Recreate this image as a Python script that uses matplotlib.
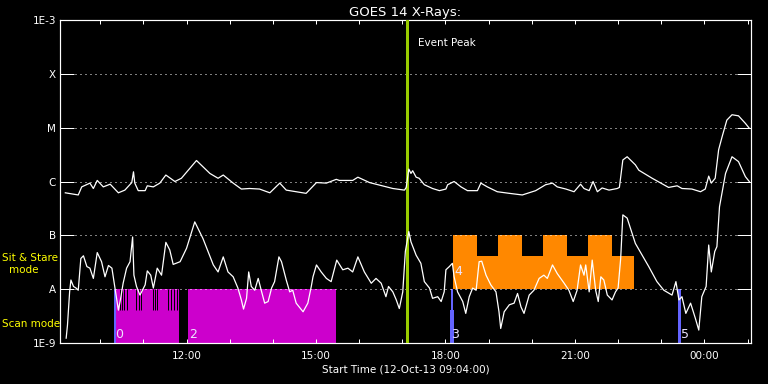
import numpy as np
import matplotlib
matplotlib.use('Agg')
from matplotlib import pyplot as plt
from matplotlib.ticker import NullLocator

# time in hours since 12-Oct-13 00:00, flux as log10(W/m^2)
t_long = [9.19, 9.49, 9.57, 9.76, 9.84, 9.93, 10.07, 10.23, 10.42, 10.57, 10.73, 10.77, 10.80, 10.88,
          11.04, 11.09, 11.23, 11.38, 11.52, 11.73, 11.88, 12.23, 12.54, 12.73, 12.85, 13.08, 13.27,
          13.46, 13.69, 13.93, 14.16, 14.31, 14.77, 15.01, 15.24, 15.47, 15.54, 15.85, 15.97, 16.24,
          16.78, 17.05, 17.09, 17.15, 17.20, 17.24, 17.32, 17.39, 17.51, 17.70, 17.86, 18.01, 18.05,
          18.20, 18.36, 18.51, 18.74, 18.82, 18.97, 19.20, 19.48, 19.78, 20.09, 20.32, 20.48, 20.59,
          20.79, 20.98, 21.13, 21.21, 21.33, 21.42, 21.52, 21.63, 21.79, 21.98, 22.03, 22.11, 22.21,
          22.40, 22.48, 22.79, 23.17, 23.37, 23.48, 23.71, 23.91, 24.02, 24.10, 24.16, 24.25, 24.33,
          24.41, 24.52, 24.64, 24.79, 24.95, 25.04]
f_long = [-6.21, -6.25, -6.10, -6.03, -6.13, -5.98, -6.10, -6.05, -6.21, -6.16, -6.02, -5.82, -6.03, -6.17,
          -6.17, -6.08, -6.10, -6.03, -5.88, -6.00, -5.94, -5.61, -5.85, -5.94, -5.88, -6.03, -6.14,
          -6.13, -6.14, -6.21, -6.03, -6.16, -6.22, -6.02, -6.03, -5.96, -5.98, -5.98, -5.92, -6.02,
          -6.13, -6.16, -6.11, -5.77, -5.85, -5.80, -5.92, -5.94, -6.06, -6.13, -6.17, -6.14, -6.06,
          -6.00, -6.10, -6.17, -6.17, -6.03, -6.10, -6.19, -6.22, -6.25, -6.17, -6.06, -6.03, -6.10,
          -6.14, -6.19, -6.05, -6.13, -6.17, -6.00, -6.19, -6.12, -6.16, -6.13, -6.11, -5.60, -5.54,
          -5.69, -5.79, -5.94, -6.11, -6.08, -6.13, -6.14, -6.19, -6.14, -5.90, -6.03, -5.94, -5.41,
          -5.17, -4.86, -4.76, -4.78, -4.92, -5.01]

t_short = [9.21, 9.24, 9.29, 9.32, 9.38, 9.44, 9.49, 9.55, 9.61, 9.69, 9.76, 9.84, 9.93, 10.03, 10.11,
           10.19, 10.27, 10.34, 10.42, 10.46, 10.53, 10.61, 10.69, 10.75, 10.78, 10.84, 10.92, 11.04,
           11.09, 11.17, 11.23, 11.32, 11.42, 11.52, 11.61, 11.69, 11.85, 12.00, 12.19, 12.38, 12.62,
           12.73, 12.85, 12.96, 13.08, 13.19, 13.27, 13.32, 13.39, 13.44, 13.50, 13.58, 13.66, 13.73,
           13.81, 13.89, 13.97, 14.04, 14.14, 14.20, 14.31, 14.39, 14.46, 14.54, 14.70, 14.81, 14.89,
           14.93, 15.01, 15.12, 15.24, 15.35, 15.48, 15.62, 15.74, 15.85, 15.97, 16.12, 16.28, 16.39,
           16.51, 16.62, 16.68, 16.78, 16.86, 16.93, 17.01, 17.07, 17.15, 17.20, 17.32, 17.43, 17.51,
           17.63, 17.70, 17.82, 17.90, 17.97, 18.01, 18.09, 18.16, 18.20, 18.28, 18.40, 18.47, 18.55,
           18.63, 18.71, 18.78, 18.84, 18.94, 19.05, 19.17, 19.24, 19.28, 19.36, 19.48, 19.59, 19.67,
           19.75, 19.82, 19.94, 20.05, 20.17, 20.28, 20.36, 20.48, 20.59, 20.75, 20.86, 20.96, 21.05,
           21.13, 21.21, 21.25, 21.33, 21.40, 21.48, 21.54, 21.60, 21.67, 21.75, 21.86, 21.94, 22.00,
           22.06, 22.11, 22.21, 22.40, 22.71, 22.90, 23.06, 23.25, 23.34, 23.41, 23.48, 23.57, 23.68,
           23.79, 23.87, 23.94, 24.04, 24.10, 24.16, 24.24, 24.29, 24.35, 24.49, 24.64, 24.79, 24.95,
           25.04]
f_short = [-8.91, -8.67, -8.05, -7.83, -7.95, -7.98, -8.02, -7.43, -7.38, -7.58, -7.61, -7.80, -7.32, -7.49,
           -7.77, -7.56, -7.61, -7.98, -8.39, -8.23, -7.89, -7.61, -7.49, -7.03, -7.74, -7.95, -8.11,
           -7.92, -7.66, -7.74, -7.98, -7.61, -7.74, -7.13, -7.27, -7.54, -7.49, -7.24, -6.75, -7.06,
           -7.55, -7.68, -7.40, -7.68, -7.77, -7.98, -8.20, -8.37, -8.17, -7.68, -7.95, -8.02, -7.80,
           -8.02, -8.26, -8.23, -7.98, -7.86, -7.40, -7.49, -7.83, -8.05, -8.02, -8.26, -8.42, -8.26,
           -7.95, -7.77, -7.55, -7.68, -7.80, -7.86, -7.46, -7.64, -7.61, -7.68, -7.40, -7.68, -7.89,
           -7.80, -7.89, -8.14, -7.95, -8.05, -8.20, -8.36, -8.05, -7.30, -6.93, -7.12, -7.37, -7.52,
           -7.86, -7.98, -8.17, -8.14, -8.23, -8.05, -7.64, -7.58, -7.52, -7.77, -8.05, -8.23, -8.45,
           -8.14, -7.98, -8.02, -7.49, -7.48, -7.74, -7.92, -8.05, -8.42, -8.73, -8.42, -8.29, -8.26,
           -8.08, -8.33, -8.45, -8.11, -8.02, -7.80, -7.74, -7.80, -7.55, -7.71, -7.89, -8.02, -8.23,
           -8.02, -7.55, -7.74, -7.55, -8.05, -7.46, -8.02, -8.23, -7.77, -7.83, -8.11, -8.20, -8.05,
           -7.98, -7.43, -6.62, -6.68, -7.15, -7.58, -7.86, -8.02, -8.11, -7.86, -8.20, -8.14, -8.45,
           -8.26, -8.54, -8.76, -8.14, -7.95, -7.18, -7.68, -7.30, -7.21, -6.47, -5.85, -5.54, -5.63,
           -5.91, -6.00]

t_start, t_end = 9.067, 25.08
event_peak = 17.11

# scan mode blocks and numbered markers
scan_blocks = [(10.35, 11.82), (12.04, 15.47)]
scan_gaps = [10.46, 10.51, 10.56, 10.62, 10.83, 10.89, 10.95, 11.22, 11.27, 11.32, 11.57, 11.64, 11.70, 11.77]
scan_marks = [(10.32, 10.37), (18.11, 18.20), (23.39, 23.45)]
# sit & stare
ss_base = (18.18, 22.37)
ss_tabs = [(18.18, 18.74), (19.22, 19.78), (20.26, 20.81), (21.30, 21.86)]
ss_mid = 4.1e-8
scan_mid = 4.1e-9
label_num = ['0', '2', '3', '4', '5']
label_t = [10.35, 12.06, 18.14, 18.20, 23.46]
label_f = [1.1e-9, 1.1e-9, 1.1e-9, 1.6e-8, 1.1e-9]

ylevels = [1e-3, 1e-4, 1e-5, 1e-6, 1e-7, 1e-8, 1e-9]
ylabels = ['1E-3', 'X', 'M', 'C', 'B', 'A', '1E-9']
xticks_major = [12, 15, 18, 21, 24]
xlabels = ['12:00', '15:00', '18:00', '21:00', '00:00']

magenta = '#cc00cc'
orange = '#ff8800'
blue = '#6464ff'
px = 0.72  # one pixel in points

fig = plt.figure(figsize=(7.68, 3.84), dpi=100, facecolor='black')
ax = fig.add_axes([60/768, 41/384, 691/768, 323/384], facecolor='black')
ax.set_yscale('log')
ax.set_ylim(1e-9, 1e-3)
ax.set_xlim(t_start, t_end)

# scan mode
for a, b in scan_blocks:
    ax.fill_between([a, b], 1e-9, 1e-8, color=magenta, lw=0)
ax.vlines(scan_gaps, scan_mid, 1e-8, color='black', lw=px)
ax.fill_between(list(scan_marks[0]), 1e-9, 1e-8, color=blue, lw=0)
ax.fill_between([18.13, 18.18], scan_mid, 1e-8, color=blue, lw=0)
ax.fill_between(list(scan_marks[1]), 1e-9, scan_mid, color=blue, lw=0)
ax.fill_between(list(scan_marks[2]), 1e-9, 1e-8, color=blue, lw=0)

# sit & stare
ax.fill_between(list(ss_base), 1e-8, ss_mid, color=orange, lw=0)
for a, b in ss_tabs:
    ax.fill_between([a, b], ss_mid * 0.98, 1e-7, color=orange, lw=0)

for s, tx, fy in zip(label_num, label_t, label_f):
    ax.text(tx, fy, s, color='#ece4ff', fontsize=9, va='bottom', ha='left')

ax.axvline(event_peak, color='#99cc00', lw=3*px, zorder=3)
ax.text(event_peak + 0.25, 3.7e-4, 'Event Peak', color='white', fontsize=7.5, va='center')

ax.plot(t_long, 10**np.array(f_long), color='white', lw=0.9, zorder=4)
ax.plot(t_short, 10**np.array(f_short), color='white', lw=0.9, zorder=4)

ax.set_yticks(ylevels)
ax.set_yticklabels(ylabels)
ax.yaxis.set_minor_locator(NullLocator())
ax.set_xticks(np.arange(10, 26))
ax.set_xticklabels([xlabels[xticks_major.index(h)] if h in xticks_major else '' for h in range(10, 26)])
ax.tick_params(axis='y', direction='in', length=14*px, width=px, colors='white', labelsize=7.5,
               left=True, right=True, pad=3)
ax.tick_params(axis='x', direction='in', length=4*px, width=px, colors='white', labelsize=7.5,
               top=True, bottom=True, pad=6)
ax.yaxis.grid(True, color='white', linestyle=(0, (1, 4)), lw=px)
for sp in ax.spines.values():
    sp.set_color('white')
    sp.set_linewidth(1.2*px)

ax.set_title('GOES 14 X-Rays:', color='white', fontsize=9.5, pad=3)
ax.set_xlabel('Start Time (12-Oct-13 09:04:00)', color='white', fontsize=7.5, labelpad=2)

fig.text(2/768, 1 - 258/384, 'Sit & Stare', color='yellow', fontsize=7.5, va='center', ha='left')
fig.text(24/768, 1 - 270/384, 'mode', color='yellow', fontsize=7.5, va='center', ha='center')
fig.text(2/768, 1 - 324/384, 'Scan mode', color='yellow', fontsize=7.5, va='center', ha='left')

fig.savefig('out.png', dpi=100, facecolor='black')
